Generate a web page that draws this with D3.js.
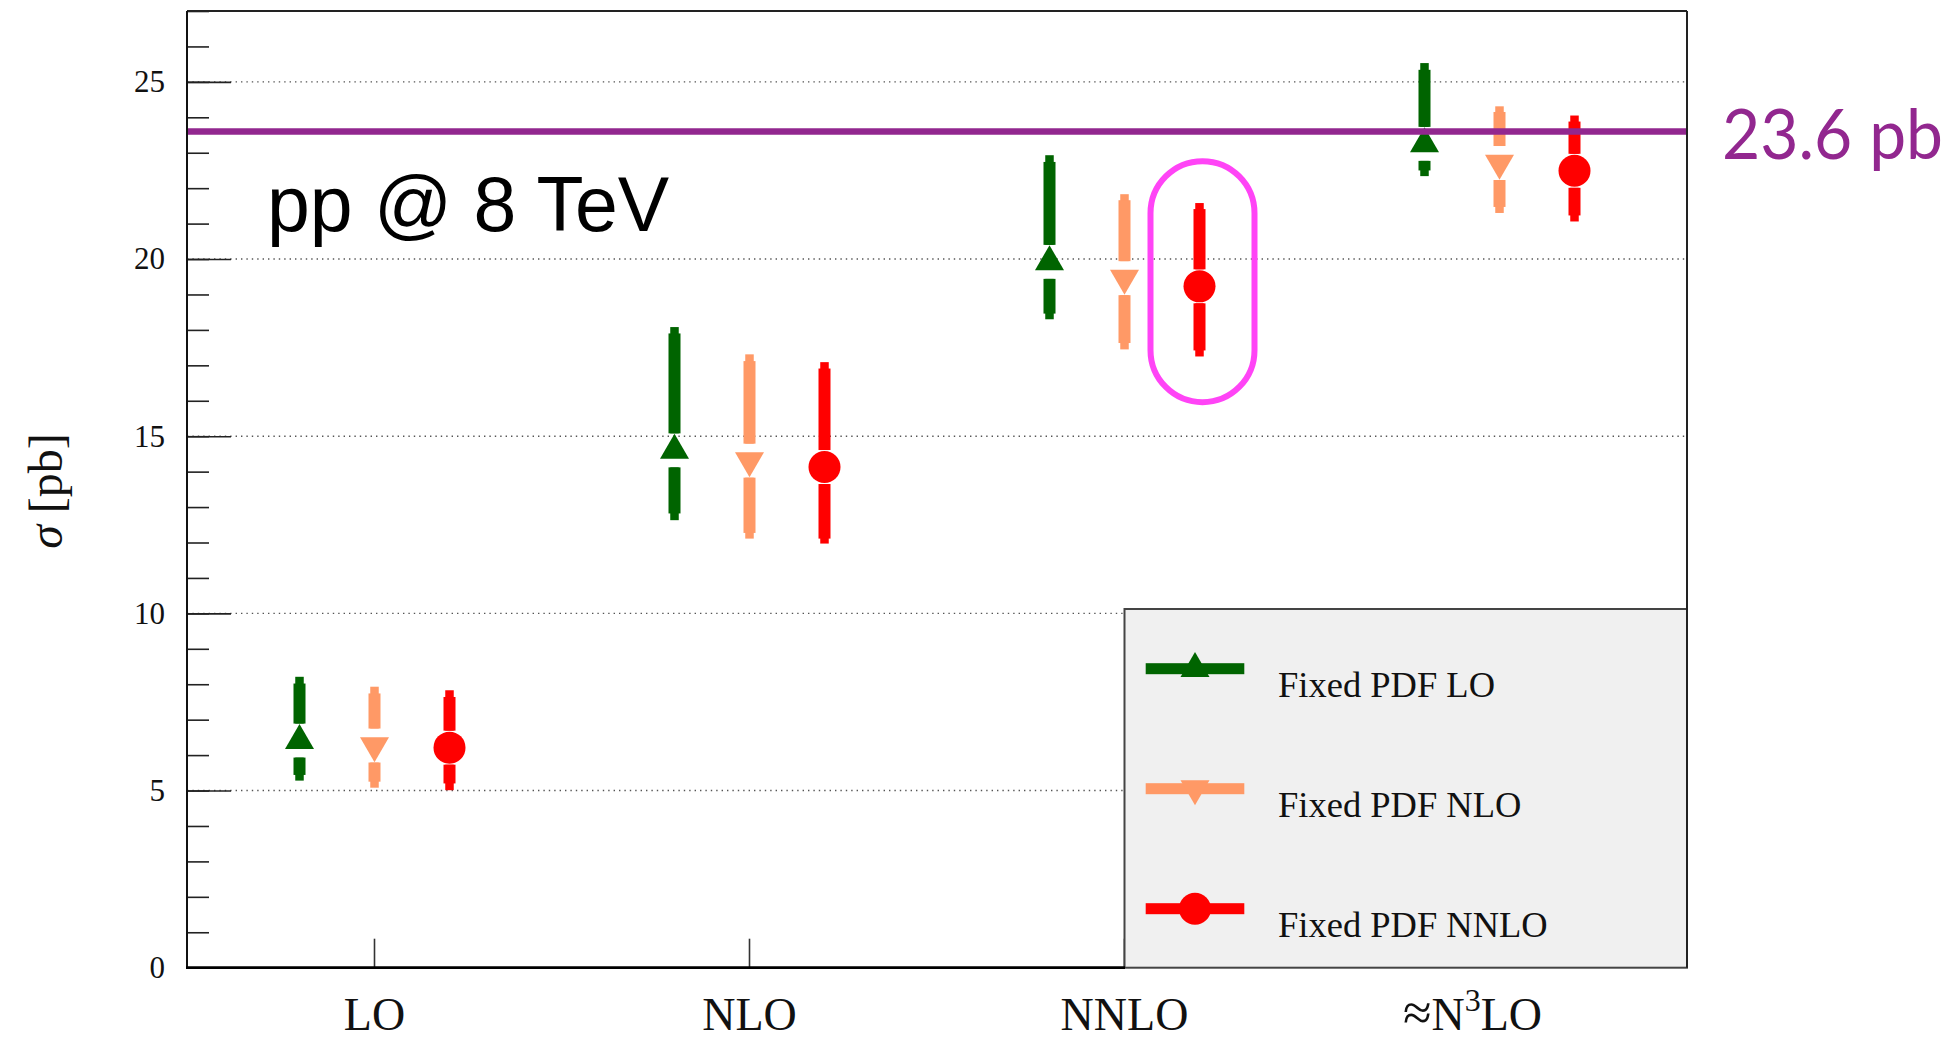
<!DOCTYPE html>
<html>
<head>
<meta charset="utf-8">
<script src="https://cdn.jsdelivr.net/npm/d3@7"></script>
<style>
  html, body { margin: 0; padding: 0; background: #ffffff; }
  svg { display: block; }
</style>
</head>
<body>
<svg id="chart" width="1957" height="1041"></svg>
<script>
// ---------------- DATA ----------------
const categories = ["LO", "NLO", "NNLO", "N3LO"];
const seriesNames = ["Fixed PDF LO", "Fixed PDF NLO", "Fixed PDF NNLO"];

// central values (pb)
const fixedPdfLO   = [6.41, 14.60, 19.92, 23.25];
const fixedPdfNLO  = [6.27, 14.31, 19.46, 22.71];
const fixedPdfNNLO = [6.21, 14.13, 19.23, 22.49];

// inner (thick) error band limits
const fixedPdfLOInnerLow   = [5.44, 12.82, 18.46, 22.50];
const fixedPdfLOInnerHigh  = [8.02, 17.90, 22.74, 25.34];
const fixedPdfNLOInnerLow  = [5.25, 12.27, 17.63, 21.47];
const fixedPdfNLOInnerHigh = [7.74, 17.12, 21.66, 24.15];
const fixedPdfNNLOInnerLow = [5.20, 12.11, 17.42, 21.23];
const fixedPdfNNLOInnerHigh= [7.64, 16.91, 21.41, 23.88];

// outer (thin) error limits
const fixedPdfLOOuterLow   = [5.28, 12.63, 18.30, 22.34];
const fixedPdfLOOuterHigh  = [8.21, 18.08, 22.93, 25.53];
const fixedPdfNLOOuterLow  = [5.08, 12.11, 17.45, 21.30];
const fixedPdfNLOOuterHigh = [7.93, 17.31, 21.83, 24.31];
const fixedPdfNNLOOuterLow = [5.01, 11.97, 17.25, 21.06];
const fixedPdfNNLOOuterHigh= [7.83, 17.09, 21.58, 24.05];

const yMajorTicks = [0, 5, 10, 15, 20, 25];
const yMinorTicks = d3.range(0, 28, 1);
const referenceValue = 23.6;
const referenceLabel = "23.6 pb";
const highlightCategory = "NNLO";
const highlightSeries = "Fixed PDF NNLO";
const highlightRange = [15.96, 22.76];

// ---------------- STYLE ----------------
const seriesColors = ["#006400", "#ff9966", "#ff0000"];
const seriesShapes = ["up", "down", "circle"];
const serif = "'Liberation Serif', 'Times New Roman', serif";

const svg = d3.select("#chart");
const L = 187, R = 1687, T = 11, B = 967.7;

const x = d3.scaleBand().domain(categories).range([L, R]).paddingInner(0).paddingOuter(0);
const xs = d3.scalePoint().domain(seriesNames).range([-75, 75]);
const y = d3.scaleLinear().domain([0, 27]).range([B, T]);

const series = [
  { name: seriesNames[0], c: fixedPdfLO, il: fixedPdfLOInnerLow, ih: fixedPdfLOInnerHigh, ol: fixedPdfLOOuterLow, oh: fixedPdfLOOuterHigh },
  { name: seriesNames[1], c: fixedPdfNLO, il: fixedPdfNLOInnerLow, ih: fixedPdfNLOInnerHigh, ol: fixedPdfNLOOuterLow, oh: fixedPdfNLOOuterHigh },
  { name: seriesNames[2], c: fixedPdfNNLO, il: fixedPdfNNLOInnerLow, ih: fixedPdfNNLOInnerHigh, ol: fixedPdfNNLOOuterLow, oh: fixedPdfNNLOOuterHigh }
];

// gridlines
svg.append("g").selectAll("line").data(yMajorTicks.filter(d => d > 0)).join("line")
  .attr("x1", L).attr("x2", R)
  .attr("y1", d => y(d)).attr("y2", d => y(d))
  .attr("stroke", "#555").attr("stroke-width", 1.4).attr("stroke-dasharray", "1.4,4");

// y axis minor ticks
svg.append("g").attr("transform", `translate(${L},0)`)
  .call(d3.axisLeft(y).tickValues(yMinorTicks).tickSize(-22).tickFormat(""))
  .call(g => g.select(".domain").remove())
  .call(g => g.selectAll("line").attr("stroke", "#222").attr("stroke-width", 1.6));
// y axis major ticks + labels
svg.append("g").attr("transform", `translate(${L},0)`)
  .call(d3.axisLeft(y).tickValues(yMajorTicks).tickSize(-44).tickPadding(22).tickFormat(d3.format("d")))
  .call(g => g.select(".domain").remove())
  .call(g => g.selectAll("line").attr("stroke", "#222").attr("stroke-width", 1.6))
  .call(g => g.selectAll("text").attr("font-family", serif).attr("font-size", 31).attr("fill", "#111"));

// x axis ticks
svg.append("g").attr("transform", `translate(0,${B})`)
  .call(d3.axisBottom(x).tickSize(-29).tickFormat(""))
  .call(g => g.select(".domain").remove())
  .call(g => g.selectAll("line").attr("stroke", "#333").attr("stroke-width", 1.6));

// x labels
const xl = svg.append("g");
categories.forEach(cat => {
  const cx = x(cat) + x.bandwidth() / 2;
  if (cat === "N3LO") {
    const t = xl.append("text").attr("x", cx - 27).attr("y", 1030).attr("text-anchor", "middle")
      .attr("font-family", serif).attr("font-size", 46).attr("fill", "#111");
    t.append("tspan").attr("font-size", 52).text("≈");
    t.append("tspan").text("N");
    t.append("tspan").attr("font-size", 32).attr("dy", -19).text("3");
    t.append("tspan").attr("dy", 19).text("LO");
  } else {
    xl.append("text").attr("x", cx).attr("y", 1030).attr("text-anchor", "middle")
      .attr("font-family", serif).attr("font-size", 46).attr("fill", "#111").text(cat);
  }
});

// error bars and markers
const gap = 17;
function vbar(g, cx, yc, lo, hi, w, color) {
  const yLo = y(lo), yHi = y(hi);
  if (yHi < yc - gap) g.append("rect").attr("x", cx - w / 2).attr("width", w)
    .attr("y", yHi).attr("height", (yc - gap) - yHi).attr("fill", color);
  if (yLo > yc + gap) g.append("rect").attr("x", cx - w / 2).attr("width", w)
    .attr("y", yc + gap).attr("height", yLo - (yc + gap)).attr("fill", color);
}
function marker(g, cx, cy, shape, color) {
  const w = 29, h = 25;
  if (shape === "circle") {
    g.append("circle").attr("cx", cx).attr("cy", cy).attr("r", 16).attr("fill", color);
  } else if (shape === "up") {
    g.append("path").attr("d", `M${cx},${cy - 2 * h / 3} L${cx + w / 2},${cy + h / 3} L${cx - w / 2},${cy + h / 3} Z`).attr("fill", color);
  } else {
    g.append("path").attr("d", `M${cx},${cy + 2 * h / 3} L${cx + w / 2},${cy - h / 3} L${cx - w / 2},${cy - h / 3} Z`).attr("fill", color);
  }
}
const pts = svg.append("g");
series.forEach((s, si) => {
  categories.forEach((cat, ci) => {
    const cx = x(cat) + x.bandwidth() / 2 + xs(s.name);
    const cy = y(s.c[ci]);
    vbar(pts, cx, cy, s.ol[ci], s.oh[ci], 8.5, seriesColors[si]);
    vbar(pts, cx, cy, s.il[ci], s.ih[ci], 12, seriesColors[si]);
    marker(pts, cx, cy, seriesShapes[si], seriesColors[si]);
  });
});

// reference line
svg.append("line").attr("x1", L + 1).attr("x2", R).attr("y1", y(referenceValue)).attr("y2", y(referenceValue))
  .attr("stroke", "#92278f").attr("stroke-width", 6.5);
svg.append("text").attr("x", 1722).attr("y", y(referenceValue) + 28)
  .attr("font-family", "Lato, 'Open Sans', sans-serif").attr("font-size", 70)
  .attr("textLength", 221).attr("lengthAdjust", "spacingAndGlyphs")
  .attr("fill", "#92278f").text(referenceLabel);

// highlight capsule
{
  const hx = x(highlightCategory) + x.bandwidth() / 2 + xs(highlightSeries) + 3;
  const wdt = 104;
  const y0 = y(highlightRange[1]), y1 = y(highlightRange[0]);
  svg.append("rect").attr("x", hx - wdt / 2).attr("y", y0).attr("width", wdt).attr("height", y1 - y0)
    .attr("rx", wdt / 2).attr("ry", wdt / 2)
    .attr("fill", "none").attr("stroke", "#ff44f6").attr("stroke-width", 6);
}

// legend
const lg = svg.append("g");
lg.append("rect").attr("x", 1124.5).attr("y", 609).attr("width", R - 1124.5).attr("height", B - 609)
  .attr("fill", "#f0f0f0").attr("stroke", "#444").attr("stroke-width", 2);
seriesNames.forEach((nm, i) => {
  const ly = 668.7 + i * 120;
  lg.append("rect").attr("x", 1145.7).attr("y", ly - 5.5).attr("width", 98.6).attr("height", 11).attr("fill", seriesColors[i]);
  marker(lg, 1195, ly, seriesShapes[i], seriesColors[i]);
  lg.append("text").attr("x", 1278).attr("y", ly + 28).attr("font-family", serif).attr("font-size", 36.5)
    .attr("fill", "#111").text(nm);
});

// frame
svg.append("line").attr("x1", L).attr("x2", R).attr("y1", T).attr("y2", T).attr("stroke", "#222").attr("stroke-width", 2);
svg.append("line").attr("x1", R).attr("x2", R).attr("y1", T).attr("y2", B).attr("stroke", "#222").attr("stroke-width", 2);
svg.append("line").attr("x1", L).attr("x2", L).attr("y1", T).attr("y2", B).attr("stroke", "#111").attr("stroke-width", 2);
svg.append("line").attr("x1", L - 1).attr("x2", 1125).attr("y1", B).attr("y2", B).attr("stroke", "#000").attr("stroke-width", 2.8);

// y-axis title
{
  const t = svg.append("text").attr("transform", "translate(62,491) rotate(-90)").attr("text-anchor", "middle")
    .attr("font-family", serif).attr("font-size", 48).attr("fill", "#111");
  t.append("tspan").attr("font-style", "italic").text("σ");
  t.append("tspan").text("  [pb]");
}

// annotation text
svg.append("text").attr("x", 267).attr("y", 231)
  .attr("font-family", "'Liberation Sans', Arial, sans-serif").attr("font-size", 77).attr("fill", "#000")
  .text("pp @ 8 TeV");
</script>
</body>
</html>
